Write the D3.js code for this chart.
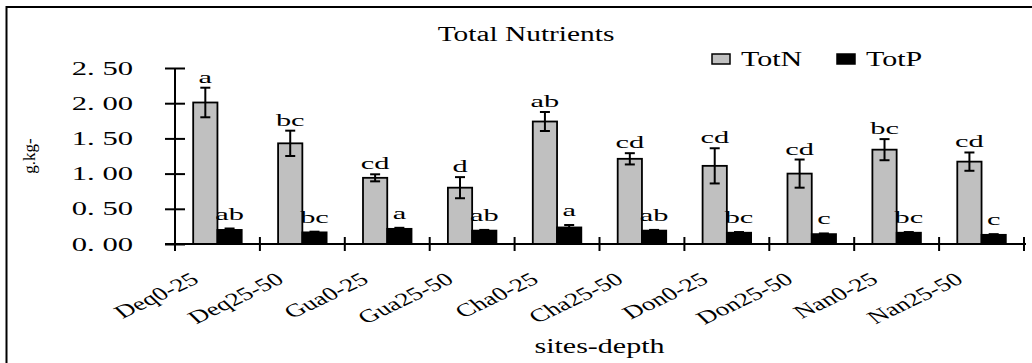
<!DOCTYPE html>
<html>
<head>
<meta charset="utf-8">
<script src="https://cdn.jsdelivr.net/npm/d3@7/dist/d3.min.js"></script>
<style>
  html, body { margin: 0; padding: 0; background: #fff; }
  svg { display: block; }
  text { font-family: "Liberation Serif", "Times New Roman", serif; fill: #000; }
</style>
</head>
<body>
<svg id="chart" width="1032" height="363"></svg>
<script>
// Total N and P by site and depth (g.kg-), mean ± error, with group letters
const categories = ["Deq0-25", "Deq25-50", "Gua0-25", "Gua25-50", "Cha0-25",
                    "Cha25-50", "Don0-25", "Don25-50", "Nan0-25", "Nan25-50"];
const seriesNames = ["TotN", "TotP"];

const totN    = [2.01, 1.43, 0.94, 0.80, 1.74, 1.21, 1.11, 1.00, 1.34, 1.17];
const totNErr = [0.21, 0.18, 0.05, 0.15, 0.135, 0.08, 0.25, 0.20, 0.15, 0.13];
const totNSig = ["a", "bc", "cd", "d", "ab", "cd", "cd", "cd", "bc", "cd"];

const totP    = [0.20, 0.165, 0.215, 0.19, 0.235, 0.19, 0.16, 0.14, 0.16, 0.13];
const totPErr = [0.02, 0.01, 0.015, 0.01, 0.035, 0.01, 0.01, 0.01, 0.01, 0.01];
const totPSig = ["ab", "bc", "a", "ab", "a", "ab", "bc", "c", "bc", "c"];

const yTickValues = [0, 0.5, 1.0, 1.5, 2.0, 2.5];
const yTickLabels = ["0. 00", "0. 50", "1. 00", "1. 50", "2. 00", "2. 50"];

const titleText = "Total Nutrients";
const xTitle = "sites-depth";
const yTitle = "g.kg-";

const fills = { TotN: "#c0c0c0", TotP: "#000000" };

const svg = d3.select("#chart");

// frame
svg.append("rect")
  .attr("x", 6.5).attr("y", 7).attr("width", 1040).attr("height", 400)
  .attr("fill", "none").attr("stroke", "#000").attr("stroke-width", 2);

const plot = { left: 175, right: 1024, top: 68, bottom: 244 };

const x = d3.scaleBand().domain(categories).range([plot.left, plot.right]).padding(0);
const xs = d3.scaleBand().domain(seriesNames).range([0, x.bandwidth()])
  .paddingInner(0).paddingOuter(0.75);
const y = d3.scaleLinear().domain([0, 2.5]).range([plot.bottom, plot.top]);

const rows = categories.map((c, i) => ({
  cat: c,
  bars: [
    { key: "TotN", v: totN[i], e: totNErr[i], sig: totNSig[i], gap: 5 },
    { key: "TotP", v: totP[i], e: totPErr[i], sig: totPSig[i], gap: 9 }
  ]
}));

// bars
const groups = svg.append("g").selectAll("g").data(rows).join("g")
  .attr("transform", d => `translate(${x(d.cat)},0)`);

groups.selectAll("rect").data(d => d.bars).join("rect")
  .attr("x", b => xs(b.key))
  .attr("y", b => y(b.v))
  .attr("width", xs.bandwidth())
  .attr("height", b => y(0) - y(b.v))
  .attr("fill", b => fills[b.key])
  .attr("stroke", "#000").attr("stroke-width", 1.8);

// error bars
const eb = groups.selectAll("g.err").data(d => d.bars).join("g").attr("class", "err")
  .attr("transform", b => `translate(${xs(b.key) + xs.bandwidth() / 2},0)`);
eb.append("line")
  .attr("y1", b => y(b.v + b.e)).attr("y2", b => y(b.v - b.e))
  .attr("stroke", "#000").attr("stroke-width", 2);
eb.append("line").attr("x1", -5).attr("x2", 5)
  .attr("y1", b => y(b.v + b.e)).attr("y2", b => y(b.v + b.e))
  .attr("stroke", "#000").attr("stroke-width", 2);
eb.filter(b => b.key === "TotN").append("line").attr("x1", -5).attr("x2", 5)
  .attr("y1", b => y(b.v - b.e)).attr("y2", b => y(b.v - b.e))
  .attr("stroke", "#000").attr("stroke-width", 2);

// significance letters
eb.append("text")
  .attr("transform", b => `translate(0,${y(b.v + b.e) - b.gap}) scale(1.9,1)`)
  .attr("text-anchor", "middle")
  .style("font-size", "16px")
  .text(b => b.sig);

// y axis
const yAxis = d3.axisLeft(y).tickValues(yTickValues)
  .tickFormat((d, i) => yTickLabels[i]).tickSizeOuter(0);
const gy = svg.append("g").attr("transform", `translate(${plot.left},0)`).call(yAxis);
gy.select(".domain").remove();
gy.append("line").attr("y1", plot.top).attr("y2", plot.bottom + 7)
  .attr("stroke", "#000").attr("stroke-width", 2);
gy.selectAll(".tick line").attr("x1", -10).attr("x2", 10)
  .attr("stroke", "#000").attr("stroke-width", 2);
gy.selectAll(".tick text")
  .attr("x", null).attr("dy", null)
  .attr("transform", "translate(-42,6) scale(1.7,1)")
  .attr("text-anchor", "end")
  .style("font-family", "'Liberation Serif', serif")
  .style("font-size", "18px")
  .attr("fill", "#000");

// x axis: line, boundary ticks and slanted category labels
const gx = svg.append("g");
gx.append("line").attr("x1", plot.left - 10).attr("x2", plot.right + 2)
  .attr("y1", plot.bottom).attr("y2", plot.bottom)
  .attr("stroke", "#000").attr("stroke-width", 2);
const bounds = categories.map(c => x(c)).concat([x(categories[categories.length - 1]) + x.bandwidth()]);
gx.selectAll("line.tk").data(bounds.slice(1)).join("line").attr("class", "tk")
  .attr("x1", d => d).attr("x2", d => d)
  .attr("y1", plot.bottom - 7).attr("y2", plot.bottom + 7)
  .attr("stroke", "#000").attr("stroke-width", 2);
gx.selectAll("text").data(categories).join("text")
  .attr("transform", c => `translate(${x(c) + x.bandwidth() / 2 - 17},${plot.bottom + 38}) scale(1.47,1) rotate(-35)`)
  .attr("text-anchor", "end")
  .style("font-size", "18.5px")
  .text(c => c);

// titles
svg.append("text")
  .attr("transform", "translate(526,40.5) scale(1.47,1)")
  .attr("text-anchor", "middle").style("font-size", "20px")
  .text(titleText);

svg.append("text")
  .attr("transform", `translate(${(plot.left + plot.right) / 2},353) scale(1.43,1)`)
  .attr("text-anchor", "middle").style("font-size", "21px")
  .text(xTitle);

svg.append("text")
  .attr("transform", "translate(35,156) rotate(-90)")
  .attr("text-anchor", "middle").style("font-size", "17px")
  .text(yTitle);

// legend
const legendX = [712, 837];
const lg = svg.append("g").selectAll("g").data(seriesNames).join("g")
  .attr("transform", (d, i) => `translate(${legendX[i]},54)`);
lg.append("rect").attr("width", 18).attr("height", 10)
  .attr("fill", d => fills[d]).attr("stroke", "#000").attr("stroke-width", 1.5);
lg.append("text")
  .attr("transform", "translate(29,11.5) scale(1.5,1)")
  .style("font-size", "20px")
  .text(d => d);
</script>
</body>
</html>
